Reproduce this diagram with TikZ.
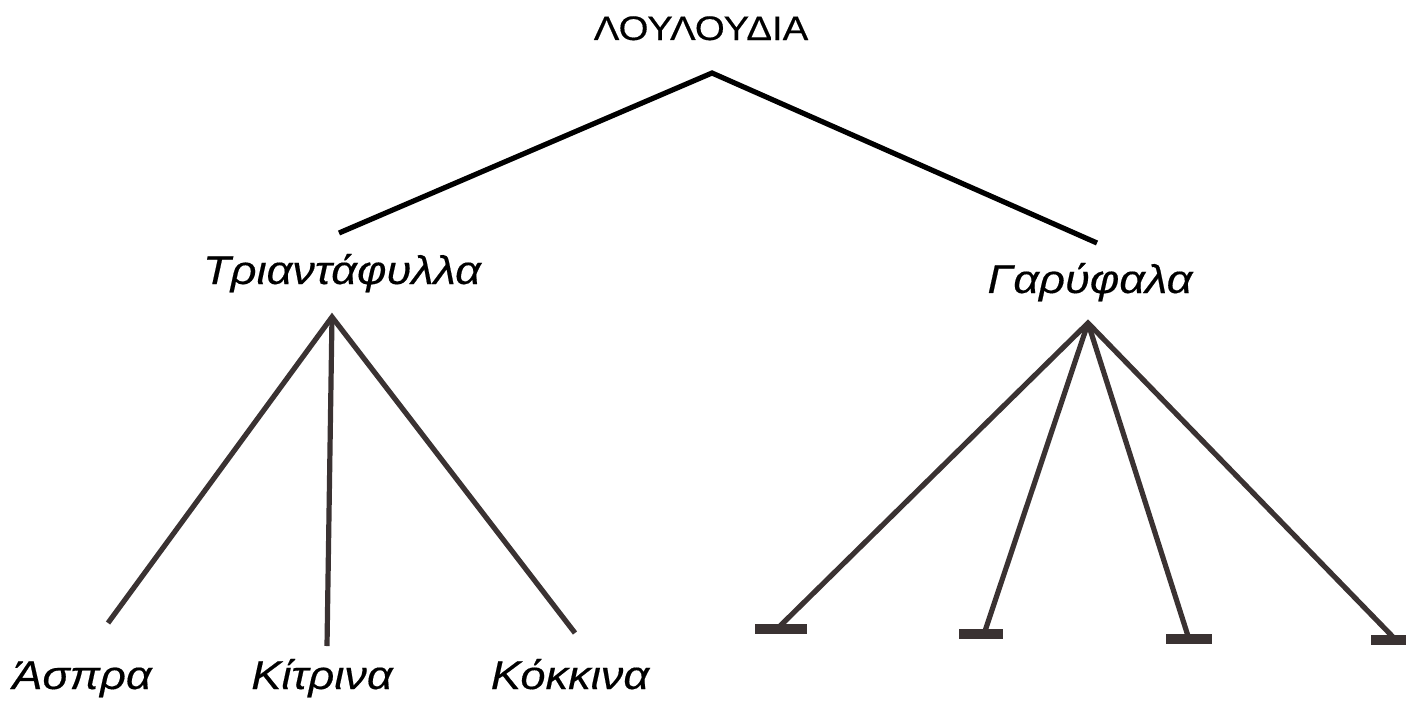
\documentclass[tikz,border=0pt]{standalone}
\usepackage{fontspec}
\setmainfont{Liberation Sans}[FakeStretch=1.13, FakeBold=0.4]
\definecolor{inkdark}{RGB}{58,50,50}

\begin{document}
\begin{tikzpicture}[x=0.5pt, y=-0.5pt,
        title/.style={inner sep=0pt, anchor=base, font=\fontsize{17}{20}\selectfont},
        kind/.style={inner sep=0pt, anchor=base, font=\fontsize{20}{24}\selectfont\itshape},
        branch/.style={line width=2.6pt, draw=inkdark, line join=miter},
        foot/.style={line width=5pt, draw=inkdark}]
            \useasboundingbox (0,0) rectangle (1406,707);

            \node[title] (flowers) at (701,40) {ΛΟΥΛΟΥΔΙΑ};
            \node[kind] (roses) at (342,284) {Τριαντάφυλλα};
            \node[kind] (carnations) at (1090,293) {Γαρύφαλα};
            \node[kind] (white) at (82,689) {Άσπρα};
            \node[kind] (yellow) at (322,689) {Κίτρινα};
            \node[kind] (red) at (570,689) {Κόκκινα};

            \coordinate (flowersfork) at (712,73);
            \coordinate (rosestop) at (339,233);
            \coordinate (carnationstop) at (1097,243);
            \draw[branch, draw=black] (rosestop) -- (flowersfork) -- (carnationstop);

            \coordinate (rosesfork) at (332,317);
            \coordinate (whitetop) at (108,623);
            \coordinate (yellowtop) at (327,646);
            \coordinate (redtop) at (575,633);
            \draw[branch] (whitetop) -- (rosesfork) -- (redtop);
            \draw[branch] (rosesfork) -- (yellowtop);

            \coordinate (carnationsfork) at (1088,323);
            \coordinate (foota) at (780,626);
            \coordinate (footb) at (985,631);
            \coordinate (footc) at (1188,636);
            \coordinate (footd) at (1393,637);
            \draw[branch] (foota) -- (carnationsfork) -- (footd);
            \draw[branch] (carnationsfork) -- (footb);
            \draw[branch] (carnationsfork) -- (footc);

            \draw[foot] (foota) ++(-25,3) -- ++(52,0);
            \draw[foot] (footb) ++(-26,3) -- ++(44,0);
            \draw[foot] (footc) ++(-22,3) -- ++(46,0);
            \draw[foot] (footd) ++(-22,3) -- ++(50,0);
        \end{tikzpicture}
\end{document}
